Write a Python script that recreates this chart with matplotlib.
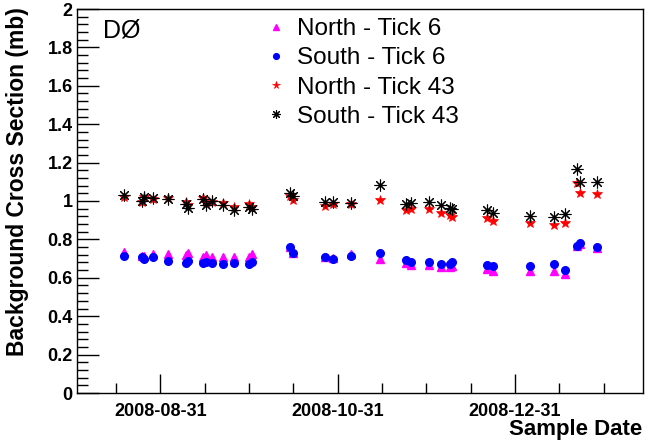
import numpy as np
import matplotlib
matplotlib.use("Agg")
import matplotlib.pyplot as plt
import matplotlib.dates as mdates
from matplotlib.ticker import MultipleLocator, FixedLocator, FuncFormatter

plt.rcParams['font.family'] = ['Liberation Sans', 'DejaVu Sans']

# sample dates (one per measurement)
dates = np.array([
    '2008-08-18T12', '2008-08-24T12', '2008-08-25T10', '2008-08-28T12', '2008-09-02T12',
    '2008-09-08T19', '2008-09-09T12', '2008-09-14T12', '2008-09-15T14', '2008-09-17T14',
    '2008-09-21T10', '2008-09-25T10', '2008-09-30T14', '2008-10-01T12', '2008-10-14T10',
    '2008-10-15T14', '2008-10-26T12', '2008-10-29T07', '2008-11-04T12', '2008-11-14T10',
    '2008-11-23T10', '2008-11-25T07', '2008-12-01T10', '2008-12-05T10', '2008-12-08T12',
    '2008-12-09T10', '2008-12-21T07', '2008-12-23T10', '2009-01-05T05', '2009-01-13T07',
    '2009-01-17T05', '2009-01-21T05', '2009-01-22T05', '2009-01-28T05'], dtype='datetime64[h]')

north_6 = [0.733, 0.715, 0.715, 0.724, 0.724, 0.719, 0.728, 0.710, 0.719, 0.710,
           0.707, 0.710, 0.707, 0.722, 0.760, 0.730, 0.708, 0.705, 0.722, 0.698,
           0.675, 0.667, 0.667, 0.655, 0.655, 0.663, 0.644, 0.635, 0.635, 0.635,
           0.620, 0.765, 0.775, 0.755]
south_6 = [0.715, 0.707, 0.698, 0.710, 0.689, 0.679, 0.688, 0.679, 0.684, 0.679,
           0.670, 0.675, 0.670, 0.684, 0.762, 0.731, 0.710, 0.698, 0.714, 0.728,
           0.693, 0.684, 0.684, 0.672, 0.672, 0.680, 0.667, 0.661, 0.661, 0.670,
           0.640, 0.766, 0.780, 0.759]
north_43 = [1.023, 0.993, 1.020, 1.008, 1.017, 0.997, 0.979, 1.014, 0.991, 0.997,
            0.991, 0.970, 0.982, 0.970, 1.026, 1.005, 0.976, 0.982, 0.982, 1.005,
            0.953, 0.957, 0.958, 0.939, 0.927, 0.918, 0.910, 0.896, 0.883, 0.875,
            0.883, 1.092, 1.043, 1.035]
south_43 = [1.031, 1.002, 1.023, 1.017, 1.010, 0.984, 0.962, 1.010, 0.979, 1.002,
            0.979, 0.953, 0.970, 0.957, 1.043, 1.026, 0.993, 0.997, 0.991, 1.083,
            0.984, 0.988, 0.997, 0.979, 0.965, 0.957, 0.953, 0.936, 0.922, 0.918,
            0.932, 1.167, 1.100, 1.097]

labels = ['North - Tick 6', 'South - Tick 6', 'North - Tick 43', 'South - Tick 43']
major_dates = np.array(['2008-08-31', '2008-10-31', '2008-12-31'], dtype='datetime64[D]')

fig = plt.figure(figsize=(6.45, 4.43), dpi=100)
ax = fig.add_axes([77 / 645, 1 - 393 / 443, 566 / 645, 384 / 443])

x = dates.astype('datetime64[s]').astype(object)
ax.plot(x, north_6, ls='none', marker='^', ms=5.5, color='#ff00ff', mec='#ff00ff', label=labels[0])
ax.plot(x, south_6, ls='none', marker='o', ms=5.5, color='#0000ff', mec='#0000ff', label=labels[1])
ax.plot(x, north_43, ls='none', marker='*', ms=7.5, color='#ff0000', mec='#ff0000', mew=0.5, label=labels[2])
ax.plot(x, south_43, ls='none', marker=(8, 2, 0), ms=8.5, color='black', mew=0.8, label=labels[3])

# x range and ticks (minor ticks split each 61-day interval in 4)
d0 = mdates.date2num(np.datetime64('2008-08-31'))
ax.set_xlim(d0 - 28.7, d0 + 122 + 44.0)
majors = [mdates.date2num(d) for d in major_dates.astype(object)]
minors = [d0 + k * 61 / 4 for k in range(-1, 12) if k % 4 != 0]
ax.xaxis.set_major_locator(FixedLocator(majors))
ax.xaxis.set_minor_locator(FixedLocator(minors))
ax.xaxis.set_major_formatter(mdates.DateFormatter('%Y-%m-%d'))

ax.set_ylim(0, 2)
ax.yaxis.set_major_locator(MultipleLocator(0.2))
ax.yaxis.set_minor_locator(MultipleLocator(0.04))
ax.yaxis.set_major_formatter(FuncFormatter(lambda v, p: '%g' % round(v, 2)))

ax.tick_params(which='both', direction='in', top=False, right=False, width=1, color='black')
ax.tick_params(axis='x', which='major', length=14, labelsize=13, pad=7)
ax.tick_params(axis='x', which='minor', length=7)
ax.tick_params(axis='y', which='major', length=16, labelsize=13, pad=3)
ax.tick_params(axis='y', which='minor', length=8)
for lab in ax.get_xticklabels() + ax.get_yticklabels():
    lab.set_fontweight('bold')
for sp in ax.spines.values():
    sp.set_linewidth(1.0)

fig.text(18 / 645, 1 - 7 / 443, 'Background Cross Section (mb)', rotation=90,
         ha='center', va='top', fontsize=16.5, fontweight='bold')
fig.text(642 / 645, 1 - 430 / 443, 'Sample Date', ha='right', va='center',
         fontsize=16, fontweight='bold')
fig.text(103 / 645, 1 - 30 / 443, 'DØ', ha='left', va='center', fontsize=18)

ax.legend(loc='upper left', bbox_to_anchor=(264 / 645, 1 - 18 / 443), bbox_transform=fig.transFigure,
          frameon=False, fontsize=17.5, labelspacing=0.3, handlelength=1.0, handletextpad=0.35,
          borderpad=0, borderaxespad=0, markerscale=0.75)

fig.savefig('out.png', dpi=100)
